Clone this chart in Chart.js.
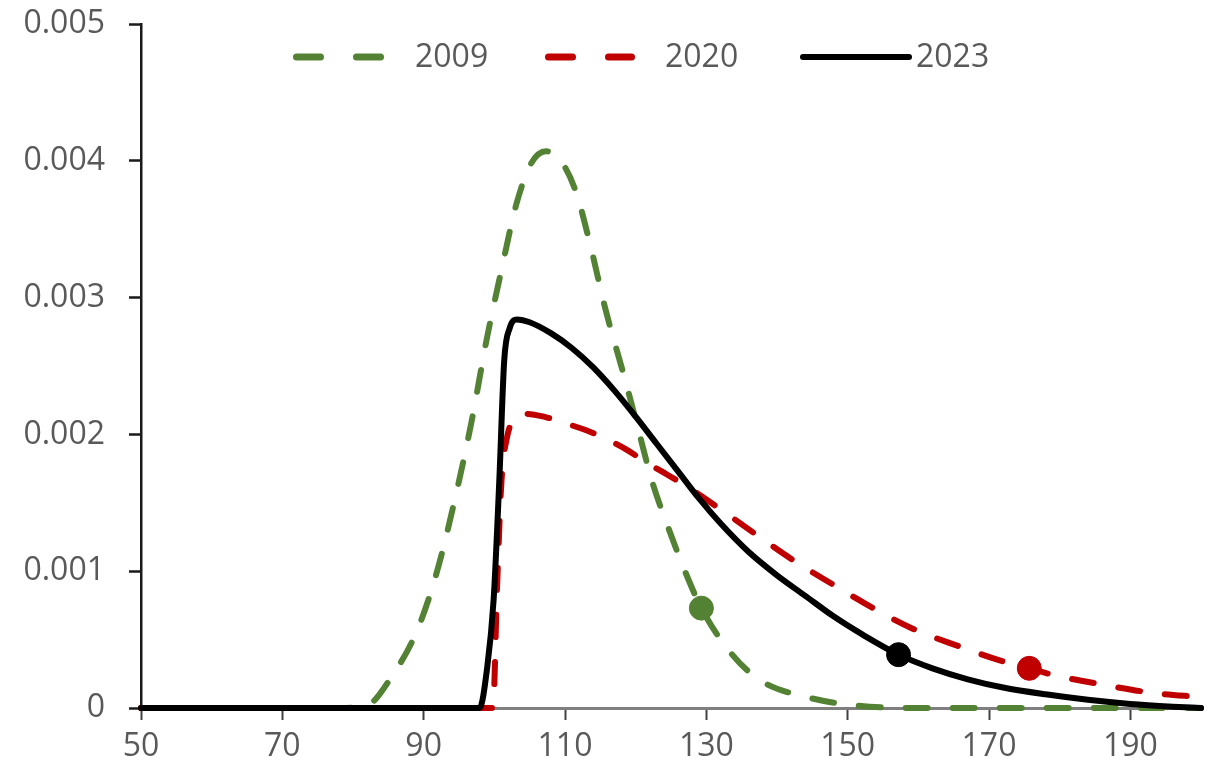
<!DOCTYPE html>
<html>
<head>
<meta charset="utf-8">
<title>2009 / 2020 / 2023</title>
<script src="https://cdn.jsdelivr.net/npm/chart.js@4.4.1/dist/chart.umd.min.js"></script>
<style>
    html, body { margin: 0; padding: 0; background: #fff; }
    #wrap { width: 1214px; height: 771px; }
</style>
</head>
<body>
<div id="wrap"><canvas id="curveChart"></canvas></div>
<script>
// values, one x list and one y list per year
const seriesNames = ['2009', '2020', '2023'];

const x2009 = [50, 78, 82, 85.6, 89.1, 91.9, 94.7, 96.8, 98.9, 101, 103.1, 105.2, 107.3, 109.4, 111.5, 113.6, 115.7, 118.5, 120.3, 122.3, 124.6, 126.9, 129.3, 133.5, 137.7, 144.2, 150.8, 159, 200];
const y2009 = [0, 0, 0.00002, 0.00024, 0.00057, 0.00100, 0.00159, 0.00210, 0.00269, 0.00320, 0.00368, 0.00398, 0.00407, 0.00400, 0.00378, 0.00338, 0.00292, 0.00240, 0.00205, 0.00166, 0.00132, 0.00101, 0.00073, 0.00040, 0.00020, 0.00008, 0.00002, 0, 0];

const x2020 = [50, 99.8, 100.4, 101, 101.8, 103, 104.5, 107, 110.1, 113, 116.1, 119, 121.3, 124, 126.9, 131.8, 136.7, 142.3, 148, 153.6, 159.2, 165.8, 171.4, 175.7, 179.2, 186.2, 193.2, 200];
const y2020 = [0, 0, 0.00090, 0.00165, 0.00198, 0.00212, 0.00215, 0.00213, 0.00208, 0.00203, 0.00196, 0.00188, 0.00180, 0.00172, 0.00163, 0.00146, 0.00128, 0.00108, 0.00090, 0.00073, 0.00058, 0.00045, 0.00035, 0.00029, 0.00024, 0.00017, 0.00011, 0.00008];

const x2023 = [50, 97.9, 99, 99.9, 100.7, 101.4, 102.2, 103.2, 105, 108, 111, 114, 117, 120, 123, 126, 129, 132, 136, 140, 144, 148, 152, 157.2, 162, 167, 172, 178, 184, 190, 196, 200];
const y2023 = [0, 0, 0.00030, 0.00079, 0.00166, 0.00254, 0.00278, 0.00284, 0.00282, 0.00274, 0.00263, 0.00249, 0.00232, 0.00213, 0.00193, 0.00173, 0.00153, 0.00135, 0.00114, 0.00097, 0.00082, 0.00067, 0.00054, 0.00039, 0.00029, 0.00021, 0.00015, 0.00010, 0.00006, 0.00003, 0.00001, 0];

// single highlighted point on each curve, same order as seriesNames
const markerX = [129.3, 175.7, 157.2];
const markerY = [0.00073, 0.00029, 0.00039];

const xTicks = [50, 70, 90, 110, 130, 150, 170, 190];
const yTicks = [0, 0.001, 0.002, 0.003, 0.004, 0.005];

const colors = ['#548235', '#c00000', '#000000'];
const dashes = [[22, 25], [22, 25], []];

const pair = (xs, ys) => xs.map((x, i) => ({ x: x, y: ys[i] }));

document.addEventListener('DOMContentLoaded', () => {
    const labelFont = { family: "'Open Sans', sans-serif", size: 32 };
    const labelColor = '#595959';

    /**
     * Legend drawn inside the plot, the way the source has it.
     */
    const insideLegend = {
        id: 'insideLegend',
        afterDatasetsDraw(chart) {
            const { ctx, chartArea } = chart;
            const y = chartArea.top + 33;
            const starts = [152, 404, 659];    // sample start, from plot left
            const widths = [92, 90, 112];      // sample length
            const gaps = [30, 30, 4];          // sample to text
            ctx.save();
            for (let i = 0; i < 3; i++) {
                const ds = chart.data.datasets[i];
                const x0 = chartArea.left + starts[i];
                ctx.beginPath();
                ctx.strokeStyle = ds.borderColor;
                ctx.lineCap = 'round';
                if (ds.borderDash.length) {
                    ctx.lineWidth = 7;
                    ctx.setLineDash([24, 36]);
                    ctx.moveTo(x0 + 3.5, y);
                    ctx.lineTo(x0 + widths[i] - 3.5, y);
                } else {
                    ctx.lineWidth = 6;
                    ctx.setLineDash([]);
                    ctx.moveTo(x0 + 3, y);
                    ctx.lineTo(x0 + widths[i] - 3, y);
                }
                ctx.stroke();
                ctx.setLineDash([]);
                ctx.fillStyle = labelColor;
                ctx.font = labelFont.size + 'px ' + labelFont.family;
                ctx.textBaseline = 'middle';
                ctx.textAlign = 'left';
                ctx.fillText(ds.label, x0 + widths[i] + gaps[i], y + 1);
            }
            ctx.restore();
        }
    };

    const lineSets = [pair(x2009, y2009), pair(x2020, y2020), pair(x2023, y2023)].map((data, i) => ({
        type: 'line',
        label: seriesNames[i],
        data: data,
        borderColor: colors[i],
        borderWidth: 6,
        borderDash: dashes[i],
        borderCapStyle: 'round',
        borderJoinStyle: 'round',
        cubicInterpolationMode: 'monotone',
        pointRadius: 0,
        clip: false,
        order: 3 - i
    }));

    const markerSets = markerX.map((x, i) => ({
        type: 'scatter',
        label: seriesNames[i] + ' point',
        data: [{ x: x, y: markerY[i] }],
        backgroundColor: colors[i],
        borderColor: colors[i],
        pointRadius: 12,
        clip: false,
        order: 0
    }));

    const ctx = document.getElementById('curveChart').getContext('2d');
    new Chart(ctx, {
        data: { datasets: lineSets.concat(markerSets) },
        options: {
            responsive: true,
            maintainAspectRatio: false,
            animation: false,
            layout: { padding: { top: 24, right: 1, left: 0, bottom: 0 } },
            plugins: {
                legend: { display: false },
                tooltip: { enabled: false }
            },
            scales: {
                x: {
                    type: 'linear',
                    min: 50,
                    max: 200,
                    afterBuildTicks: axis => { axis.ticks = xTicks.map(v => ({ value: v })); },
                    afterFit: axis => { axis.height = 63; },
                    border: { color: '#7f7f7f', width: 3 },
                    grid: {
                        drawOnChartArea: false,
                        tickLength: 12,
                        tickWidth: 2,
                        tickColor: '#404040'
                    },
                    ticks: {
                        color: labelColor,
                        font: labelFont,
                        padding: 8,
                        maxRotation: 0
                    }
                },
                y: {
                    min: 0,
                    max: 0.005,
                    afterBuildTicks: axis => { axis.ticks = yTicks.map(v => ({ value: v })); },
                    afterFit: axis => {
                        axis.width = 141;
                        // keep the label padding from pushing the plot top down
                        axis.paddingTop = 0;
                        axis.paddingBottom = 0;
                    },
                    border: { color: '#1a1a1a', width: 2.5 },
                    grid: {
                        drawOnChartArea: false,
                        tickLength: 12,
                        tickWidth: 2.5,
                        tickColor: '#1a1a1a'
                    },
                    ticks: {
                        color: labelColor,
                        font: labelFont,
                        padding: 24,
                        callback: v => (v === 0 ? '0' : v.toFixed(3))
                    }
                }
            }
        },
        plugins: [insideLegend]
    });
});
</script>
</body>
</html>
